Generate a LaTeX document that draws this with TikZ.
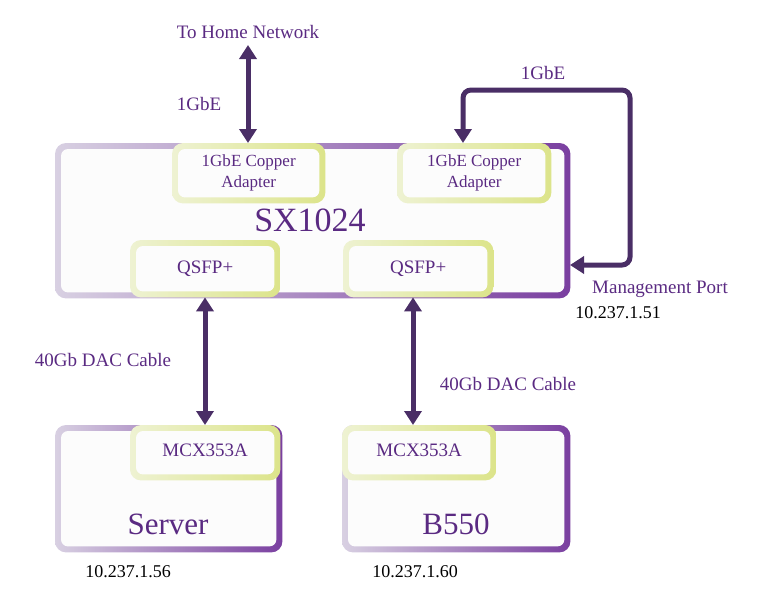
\documentclass[tikz,border=0pt]{standalone}
\usepackage{fontspec}
\setmainfont{Liberation Serif}
\usetikzlibrary{arrows.meta,calc,positioning}
\definecolor{Grape}{HTML}{5A2A82}
\definecolor{Plum}{HTML}{4A2E66}
\definecolor{Lilac}{HTML}{D8D0E2}
\definecolor{Violet}{HTML}{7A3FA0}
\definecolor{PaleLime}{HTML}{EEF2D2}
\definecolor{Lime}{HTML}{DCE48A}
\newcommand{\gbox}[3]{%
  \shade[left color=#2,right color=#3,rounded corners=11pt]
    (#1.south west) rectangle (#1.north east);
  \fill[white!98!gray,rounded corners=7pt]
    ($(#1.south west)+(6,-6)$) rectangle ($(#1.north east)+(-6,6)$);}
\tikzset{
  box/.style={inner sep=0pt,anchor=north west},
  lbl/.style={text=Grape,font=\fontsize{19}{19}\selectfont,align=center},
  ip/.style={text=black,font=\fontsize{18}{18}\selectfont},
  link/.style={draw=Plum,line width=5pt,{Triangle[length=14pt,width=17pt]}-{Triangle[length=14pt,width=17pt]}},
}
\begin{document}
\begin{tikzpicture}[x=1pt,y=-1pt]
  \useasboundingbox (0,0) rectangle (767,600);
  % boxes
  \node[box,minimum width=515pt,minimum height=155pt] (sw) at (55,143) {};
  \node[box,minimum width=153pt,minimum height=60pt] (ad1) at (172,143) {};
  \node[box,minimum width=154pt,minimum height=60pt] (ad2) at (397,143) {};
  \node[box,minimum width=150pt,minimum height=57pt] (q1) at (130,240) {};
  \node[box,minimum width=150pt,minimum height=57pt] (q2) at (343,240) {};
  \node[box,minimum width=227pt,minimum height=127pt] (srv) at (55,425) {};
  \node[box,minimum width=228pt,minimum height=127pt] (b550) at (342,425) {};
  \node[box,minimum width=150pt,minimum height=55pt] (m1) at (130,425) {};
  \node[box,minimum width=154pt,minimum height=55pt] (m2) at (342,425) {};
  \gbox{sw}{Lilac}{Violet}
  \gbox{srv}{Lilac}{Violet}
  \gbox{b550}{Lilac}{Violet}
  \foreach \b in {ad1,ad2,q1,q2,m1,m2}{\gbox{\b}{PaleLime}{Lime}}
  % texts
  \node[lbl,font=\fontsize{17}{21}\selectfont] at (ad1) {1GbE Copper\\Adapter};
  \node[lbl,font=\fontsize{17}{21}\selectfont] at (ad2) {1GbE Copper\\Adapter};
  \node[lbl] at (q1) {QSFP+};
  \node[lbl] at (q2) {QSFP+};
  \node[lbl] at ($(m1)+(0,-2)$) {MCX353A};
  \node[lbl] at ($(m2)+(0,-2)$) {MCX353A};
  \node[lbl,font=\fontsize{34}{34}\selectfont] at (310,220) {SX1024};
  \node[lbl,font=\fontsize{31}{31}\selectfont] at (168,524) {Server};
  \node[lbl,font=\fontsize{31}{31}\selectfont] at (456,524) {B550};
  % links
  \node[lbl] (home) at (248,32) {To Home Network};
  \coordinate (up) at (248,45);
  \coordinate (port) at (570,265);
  \draw[link] (up) -- (ad1.north -| up);
  \draw[link] (q1.south -| 205,0) -- (srv.north -| 205,0);
  \draw[link] (q2.south -| 413,0) -- (b550.north -| 413,0);
  \draw[link,rounded corners=8pt] (ad2.north -| 463,0) -- (463,90) -- (630,90)
    -- (630,265) -- (port);
  \node[lbl] at (199,104) {1GbE};
  \node[lbl] at (543,73) {1GbE};
  \node[lbl] at (103,360) {40Gb DAC Cable};
  \node[lbl] at (508,384) {40Gb DAC Cable};
  \node[lbl] at (660,289) {Management Port};
  \node[ip] at (618,313) {10.237.1.51};
  \node[ip] at (128,572) {10.237.1.56};
  \node[ip] at (415,572) {10.237.1.60};
\end{tikzpicture}
\end{document}
